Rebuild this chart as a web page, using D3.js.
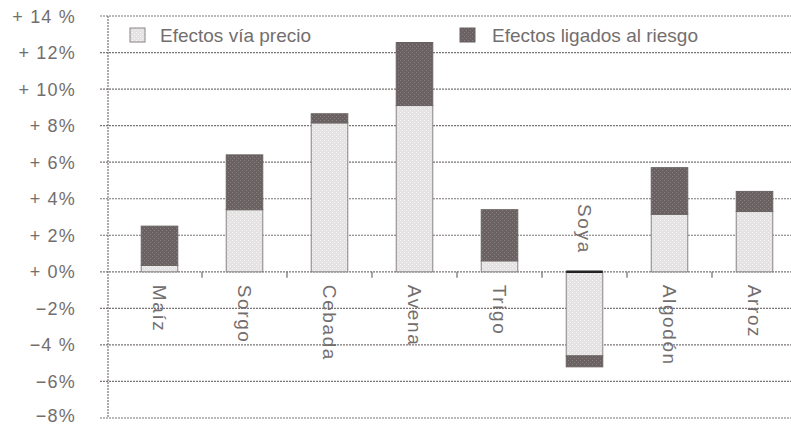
<!DOCTYPE html>
<html>
<head>
<meta charset="utf-8">
<script src="https://cdn.jsdelivr.net/npm/d3@7/dist/d3.min.js"></script>
<style>
  html, body { margin: 0; padding: 0; background: #fff; }
  svg { display: block; }
  text { font-family: "Liberation Sans", Arial, sans-serif; fill: #736e6e; }
</style>
</head>
<body>
<svg id="chart" width="791" height="426"></svg>
<script>
// Cultivos y descomposición del efecto (% de variación)
const categories = ["Maíz", "Sorgo", "Cebada", "Avena", "Trigo", "Soya", "Algodón", "Arroz"];
const precio = [0.35, 3.4, 8.15, 9.1, 0.6, -4.6, 3.15, 3.3];
const riesgo = [2.15, 3.0, 0.5, 3.45, 2.8, -0.6, 2.55, 1.1];
const seriesNames = ["Efectos vía precio", "Efectos ligados al riesgo"];
const yTicks = [14, 12, 10, 8, 6, 4, 2, 0, -2, -4, -6, -8];
const yTickLabels = ["+ 14 %", "+ 12%", "+ 10%", "+ 8%", "+ 6%", "+ 4%", "+ 2%", "+ 0%", "\u22122%", "\u22124 %", "\u22126%", "\u22128%"];

const W = 791, H = 426;
const svg = d3.select("#chart");
const defs = svg.append("defs");

// Stipple fills for the two series
function stipple(id, bg, dot) {
  const p = defs.append("pattern").attr("id", id)
    .attr("patternUnits", "userSpaceOnUse").attr("width", 4).attr("height", 4);
  p.append("rect").attr("width", 4).attr("height", 4).attr("fill", bg);
  p.append("rect").attr("x", 0).attr("y", 0).attr("width", 1).attr("height", 1).attr("fill", dot);
  p.append("rect").attr("x", 2).attr("y", 2).attr("width", 1).attr("height", 1).attr("fill", dot);
}
stipple("pLight", "#e4e2e2", "#f8f8f8");
stipple("pDark", "#6a6262", "#8a8282");

const y = d3.scaleLinear().domain([-8, 14]).range([418, 16]);
const x = d3.scaleBand().domain(categories).range([117, 797]).paddingInner(0.57).paddingOuter(0.285);
const band = d3.scaleBand().domain(categories).range([117, 797]);

// Horizontal grid
svg.append("g").selectAll("line").data(yTicks).join("line")
  .attr("x1", 100).attr("x2", W)
  .attr("y1", d => y(d)).attr("y2", d => y(d))
  .attr("stroke", "#7a7474").attr("stroke-width", 1.2)
  .attr("stroke-dasharray", "2,1");

// Vertical axis line
svg.append("line").attr("x1", 108).attr("x2", 108).attr("y1", y(14)).attr("y2", y(-8))
  .attr("stroke", "#7a7474").attr("stroke-width", 1.2).attr("stroke-dasharray", "2,1");

// Category tick marks below the zero line
svg.append("g").selectAll("line").data(categories.slice(1)).join("line")
  .attr("x1", d => band(d)).attr("x2", d => band(d))
  .attr("y1", y(0)).attr("y2", y(0) + 6)
  .attr("stroke", "#6e6a6a").attr("stroke-width", 1.2);

// Y labels (the lowest one is kept inside the canvas)
svg.append("g").selectAll("text").data(yTicks).join("text")
  .attr("x", 76).attr("y", d => Math.min(y(d) + 6.5, H - 4))
  .attr("text-anchor", "end").attr("font-size", 18).attr("letter-spacing", 1.2)
  .text((d, i) => yTickLabels[i]);

// Stacked bars
const rows = categories.map((c, i) => ({ c, p: precio[i], r: riesgo[i] }));
const bars = svg.append("g");
rows.forEach(d => {
  const x0 = x(d.c), w = x.bandwidth();
  const top = d.p + d.r;
  // precio segment: 0 -> p
  bars.append("rect")
    .attr("x", x0).attr("width", w)
    .attr("y", y(Math.max(0, d.p))).attr("height", Math.abs(y(0) - y(d.p)))
    .attr("fill", "url(#pLight)").attr("stroke", "#8a8484").attr("stroke-width", 1);
  // riesgo segment: p -> p + r
  bars.append("rect")
    .attr("x", x0).attr("width", w)
    .attr("y", y(Math.max(d.p, top))).attr("height", Math.abs(y(d.p) - y(top)))
    .attr("fill", "url(#pDark)").attr("stroke", "#6a6262").attr("stroke-width", 1);
});
// Dark edge at the zero line of the negative bar
rows.filter(d => d.p < 0).forEach(d => {
  bars.append("line").attr("x1", x(d.c)).attr("x2", x(d.c) + x.bandwidth())
    .attr("y1", y(0)).attr("y2", y(0)).attr("stroke", "#222").attr("stroke-width", 2.5);
});

// Rotated category labels
svg.append("g").selectAll("text").data(rows).join("text")
  .attr("font-size", 19).attr("letter-spacing", 1.6)
  .attr("transform", d => {
    const cx = band(d.c) + band.bandwidth() / 2 - 7;
    return d.p < 0
      ? `translate(${cx},${y(0) - 18}) rotate(90)`
      : `translate(${cx},${y(0) + 13}) rotate(90)`;
  })
  .attr("text-anchor", d => d.p < 0 ? "end" : "start")
  .text(d => d.c);

// Legend
const legend = svg.append("g");
[[130, "url(#pLight)", "#8a8484"], [460, "url(#pDark)", "#6a6262"]].forEach((l, i) => {
  legend.append("rect").attr("x", l[0]).attr("y", 28).attr("width", 15).attr("height", 14)
    .attr("fill", l[1]).attr("stroke", l[2]);
  legend.append("text").attr("x", l[0] + (i === 0 ? 30 : 32)).attr("y", 42)
    .attr("font-size", 19).text(seriesNames[i]);
});
</script>
</body>
</html>
